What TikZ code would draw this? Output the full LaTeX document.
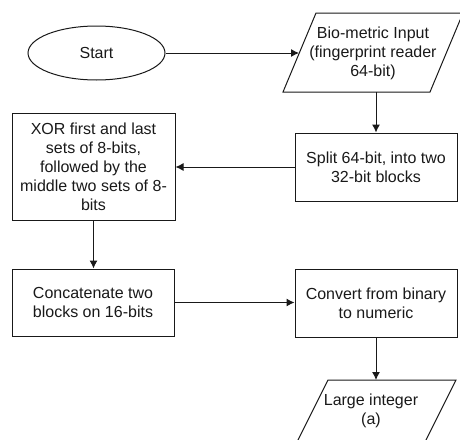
\documentclass[tikz,border=0pt]{standalone}
\usepackage{fontspec}
\setmainfont{Liberation Sans}
\usetikzlibrary{arrows.meta,shapes.geometric}
\begin{document}
\begin{tikzpicture}[x=1pt,y=-1pt,
  txt/.style={font=\fontsize{16}{19}\selectfont, align=center, text=black!90},
  box/.style={txt, draw=black!90, line width=1pt, rectangle, inner sep=0pt},
  lbl/.style={txt, inner sep=0pt},
  arr/.style={draw=black!90, line width=1pt, -{Latex[length=8pt,width=8pt]}},
  shp/.style={draw=black!90, line width=1pt, line join=miter}]
\useasboundingbox (0,0) rectangle (460,439);
\clip (0,0) rectangle (460,439);
% start
\node[txt, draw=black!90, line width=1pt, ellipse, minimum width=137pt, minimum height=54pt, inner sep=0pt] (start) at (96.5,53) {Start};
% bio-metric input parallelogram
\coordinate (bioA) at (316,13);
\coordinate (bioB) at (463,13);
\coordinate (bioC) at (430,92);
\coordinate (bioD) at (283,92);
\draw[shp] (bioA) -- (bioB) -- (bioC) -- (bioD) -- cycle;
\node[lbl] (bio) at (373,53) {Bio-metric Input\\(fingerprint reader\\64-bit)};
\coordinate (bioW) at (299,53);
\coordinate (bioS) at (376,92);
% boxes
\node[box, minimum width=162pt, minimum height=68pt] (split) at (376,167) {Split 64-bit, into two\\32-bit blocks};
\node[box, minimum width=163pt, minimum height=107pt] (xor) at (93.5,166.5) {XOR first and last\\sets of 8-bits,\\followed by the\\middle two sets of 8-\\bits};
\node[box, minimum width=162pt, minimum height=67pt] (concat) at (93,302.5) {Concatenate two\\blocks on 16-bits};
\node[box, minimum width=162pt, minimum height=68pt] (convert) at (376,303) {Convert from binary\\to numeric};
% large integer parallelogram
\coordinate (bigA) at (328,380);
\coordinate (bigB) at (456,380);
\coordinate (bigC) at (416,460);
\coordinate (bigD) at (288,460);
\draw[shp] (bigA) -- (bigB) -- (bigC) -- (bigD) -- cycle;
\node[lbl] (big) at (371,411) {Large integer\\(a)};
\coordinate (bigT) at (376,380);
% connectors
\draw[arr] (start.east) -- (bioW);
\draw[arr] (bioS) -- (split.north);
\draw[arr] (split.west) -- (split.west -| xor.east);
\draw[arr] (xor.south) -- (xor.south |- concat.north);
\draw[arr] (concat.east) -- (concat.east -| convert.west);
\draw[arr] (convert.south) -- (bigT);
\end{tikzpicture}
\end{document}
